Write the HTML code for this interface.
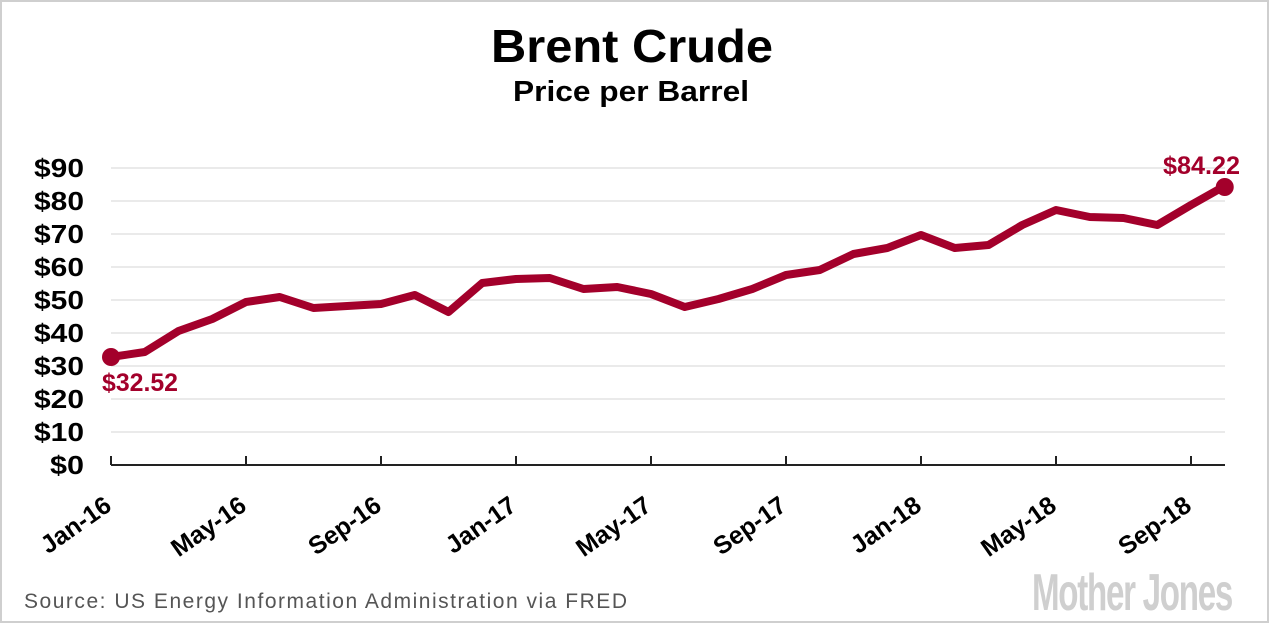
<!DOCTYPE html>
<html><head><meta charset="utf-8"><style>
html,body{margin:0;padding:0;background:#fff}
svg{display:block}
text{font-family:"Liberation Sans",sans-serif}
</style></head><body>
<svg width="1269" height="623" viewBox="0 0 1269 623" xmlns="http://www.w3.org/2000/svg">
<rect x="1" y="1" width="1267" height="621" fill="#fff" stroke="#cfcfcf" stroke-width="2"/>
<text x="632" y="62" text-anchor="middle" font-size="46" font-weight="bold" textLength="282" lengthAdjust="spacingAndGlyphs">Brent Crude</text>
<text x="631" y="101" text-anchor="middle" font-size="29" font-weight="bold" textLength="236" lengthAdjust="spacingAndGlyphs">Price per Barrel</text>
<g stroke="#e4e4e4" stroke-width="1.5">
<line x1="111" x2="1225" y1="168" y2="168"/><line x1="111" x2="1225" y1="201" y2="201"/>
<line x1="111" x2="1225" y1="234" y2="234"/><line x1="111" x2="1225" y1="267" y2="267"/>
<line x1="111" x2="1225" y1="300" y2="300"/><line x1="111" x2="1225" y1="333" y2="333"/>
<line x1="111" x2="1225" y1="366" y2="366"/><line x1="111" x2="1225" y1="399" y2="399"/>
<line x1="111" x2="1225" y1="432" y2="432"/>
</g>
<g font-size="26" font-weight="bold" text-anchor="end">
<text x="84" y="177" textLength="50" lengthAdjust="spacingAndGlyphs">$90</text>
<text x="84" y="210" textLength="50" lengthAdjust="spacingAndGlyphs">$80</text>
<text x="84" y="243" textLength="50" lengthAdjust="spacingAndGlyphs">$70</text>
<text x="84" y="276" textLength="50" lengthAdjust="spacingAndGlyphs">$60</text>
<text x="84" y="309" textLength="50" lengthAdjust="spacingAndGlyphs">$50</text>
<text x="84" y="342" textLength="50" lengthAdjust="spacingAndGlyphs">$40</text>
<text x="84" y="375" textLength="50" lengthAdjust="spacingAndGlyphs">$30</text>
<text x="84" y="408" textLength="50" lengthAdjust="spacingAndGlyphs">$20</text>
<text x="84" y="441" textLength="50" lengthAdjust="spacingAndGlyphs">$10</text>
<text x="84" y="474" textLength="34" lengthAdjust="spacingAndGlyphs">$0</text>
</g>
<g stroke="#222" stroke-width="2">
<line x1="111" x2="1225" y1="465" y2="465"/>
<line x1="111" x2="111" y1="456" y2="465"/><line x1="246" x2="246" y1="456" y2="465"/>
<line x1="381" x2="381" y1="456" y2="465"/><line x1="516" x2="516" y1="456" y2="465"/>
<line x1="651" x2="651" y1="456" y2="465"/><line x1="786" x2="786" y1="456" y2="465"/>
<line x1="921" x2="921" y1="456" y2="465"/><line x1="1056" x2="1056" y1="456" y2="465"/>
<line x1="1191" x2="1191" y1="456" y2="465"/>
</g>
<g font-size="25" font-weight="bold" text-anchor="end">
<text transform="translate(113,509) rotate(-35)">Jan-16</text>
<text transform="translate(248,509) rotate(-35)">May-16</text>
<text transform="translate(383,509) rotate(-35)">Sep-16</text>
<text transform="translate(518,509) rotate(-35)">Jan-17</text>
<text transform="translate(653,509) rotate(-35)">May-17</text>
<text transform="translate(788,509) rotate(-35)">Sep-17</text>
<text transform="translate(923,509) rotate(-35)">Jan-18</text>
<text transform="translate(1058,509) rotate(-35)">May-18</text>
<text transform="translate(1193,509) rotate(-35)">Sep-18</text>
</g>
<polyline fill="none" stroke="#a3002b" stroke-width="8" stroke-linejoin="round" stroke-linecap="round"
points="111,357 144.75,352 178.5,331 212.25,319 246,302 279.75,297 313.5,308 347.25,306 381,304 414.75,295 448.5,312 482.25,283 516,279 549.75,278 583.5,289 617.25,287 651,294 684.75,307 718.5,299 752.25,289 786,275 819.75,270 853.5,254 887.25,248 921,235 954.75,248 988.5,245 1022.25,225 1056,210 1089.75,217 1123.5,218 1157.25,225 1191,205 1224.75,186"/>
<circle cx="111" cy="357" r="9" fill="#a3002b"/>
<circle cx="1224.75" cy="187" r="9" fill="#a3002b"/>
<text x="102" y="391" font-size="25" font-weight="bold" fill="#a3002b" textLength="76" lengthAdjust="spacingAndGlyphs">$32.52</text>
<text x="1240" y="174" font-size="25" font-weight="bold" fill="#a3002b" text-anchor="end" textLength="77" lengthAdjust="spacingAndGlyphs">$84.22</text>
<text x="24" y="608" font-size="21" fill="#555" textLength="603" lengthAdjust="spacing">Source: US Energy Information Administration via FRED</text>
<text x="1032" y="610" font-size="52" font-weight="bold" fill="#cfcfcf" textLength="200" lengthAdjust="spacingAndGlyphs" letter-spacing="-2">Mother Jones</text>
</svg>
</body></html>
